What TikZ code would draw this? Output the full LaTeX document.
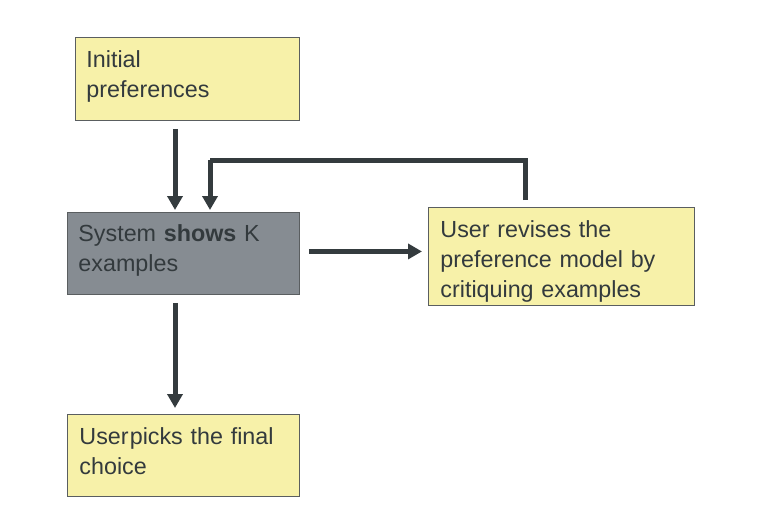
\documentclass[tikz,border=0pt]{standalone}
\usepackage{fontspec}
\setmainfont{Liberation Sans}
\usetikzlibrary{arrows.meta}
\definecolor{boxyellow}{HTML}{F7F1A9}
\definecolor{boxgray}{HTML}{868C92}
\definecolor{linecol}{HTML}{343B3E}
\definecolor{txtcol}{HTML}{333A3D}
\definecolor{bordercol}{HTML}{5A5E60}
\begin{document}
\begin{tikzpicture}[x=1pt,y=-1pt,
  box/.style={draw=bordercol, line width=0.9pt, fill=boxyellow, anchor=north west,
    text=txtcol, align=left, inner xsep=11pt, inner ysep=0pt,
    text height=17pt, text depth=40pt,
    font=\fontsize{23.3}{29.6}\selectfont},
  graybox/.style={box, fill=boxgray},
  conn/.style={draw=linecol, line width=5pt, -{Triangle[length=14pt,width=15pt]}},
  plain/.style={draw=linecol, line width=5pt}]
\useasboundingbox (0,0) rectangle (758,520);
\node[box, minimum width=224pt, minimum height=83pt, text width=202pt] (init) at (75,37)
  {Initial\\preferences};
\node[graybox, minimum width=232pt, minimum height=82pt, text width=210pt] (sys) at (67,212)
  {System \textbf{shows} K\\examples};
\node[box, minimum width=266pt, minimum height=98pt, text width=242pt, inner xsep=12pt, text depth=54pt] (rev) at (428,207)
  {User revises the\\preference model by\\critiquing examples};
\node[box, minimum width=232pt, minimum height=82pt, text width=208pt, inner xsep=12pt, text depth=39pt] (pick) at (67,414)
  {User\hspace{0.05em}picks the final\\choice};
\coordinate (a1) at ([xshift=100pt,yshift=-8pt]init.south west);
\coordinate (a2) at ([xshift=108pt,yshift=2pt]sys.north west);
\draw[conn] (a1) -- (a2);
\coordinate (f1) at ([xshift=97pt,yshift=7pt]rev.north west);
\coordinate (f2) at ([xshift=143pt,yshift=2pt]sys.north west);
\coordinate (c2) at ([yshift=50pt]f2);
\draw[plain] (f1) |- (c2);
\draw[conn] (c2) -- (f2);
\coordinate (h1) at ([xshift=9pt,yshift=2pt]sys.east);
\draw[conn, shorten >=6pt] (h1) -- (h1 -| rev.west);
\coordinate (d1) at ([xshift=108pt,yshift=-8pt]sys.south west);
\coordinate (d2) at ([xshift=108pt,yshift=6pt]pick.north west);
\draw[conn] (d1) -- (d2);
\end{tikzpicture}
\end{document}
